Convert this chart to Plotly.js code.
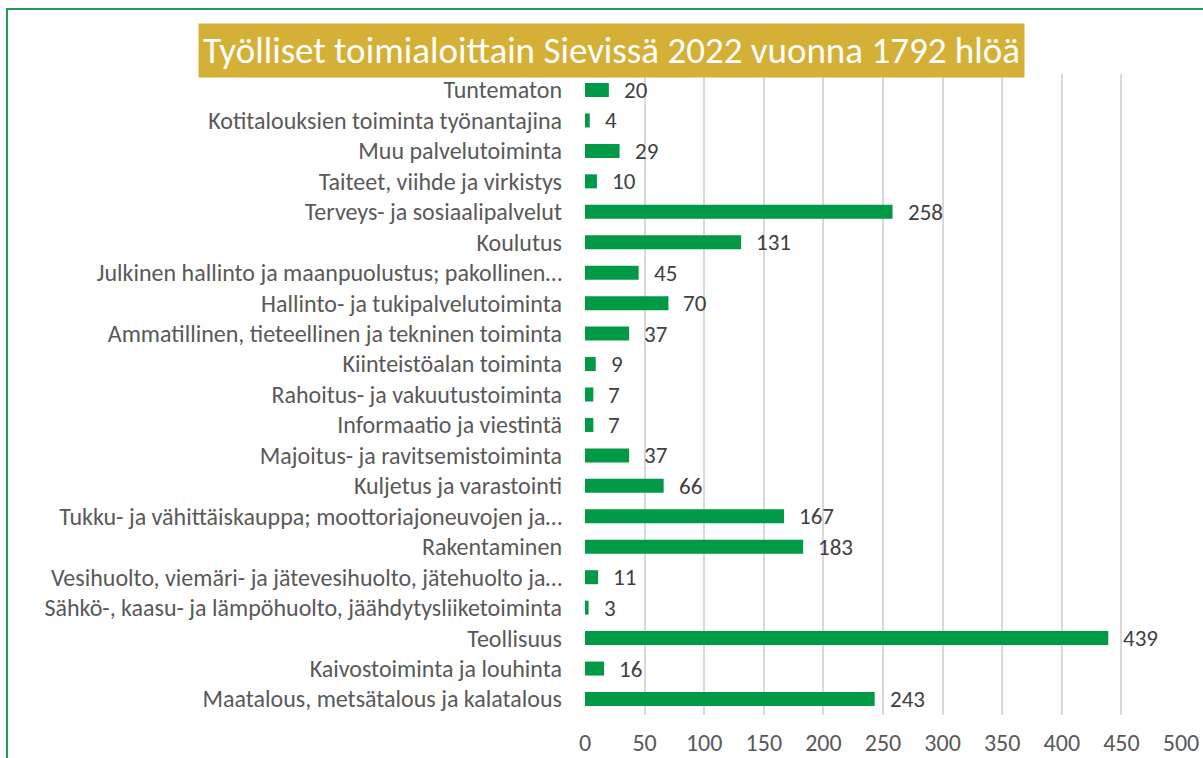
<!DOCTYPE html>
<html>
<head>
<meta charset="utf-8">
<script src="https://cdn.plot.ly/plotly-3.0.1.min.js"></script>
<style>
  body { margin: 0; background: #fff; }
  #frame { position: absolute; left: 6px; top: 8px; width: 1260px; height: 800px; border: 2px solid #1BA24F; }
  #chart { position: absolute; left: 0; top: 0; width: 1203px; height: 758px; }
</style>
</head>
<body>
<div id="frame"></div>
<div id="chart"></div>
<script>
// Toimialat alhaalta ylös (kuten Excelin vaakapylväskaaviossa)
const categories = [
    'Maatalous, metsätalous ja kalatalous',
    'Kaivostoiminta ja louhinta',
    'Teollisuus',
    'Sähkö-, kaasu- ja lämpöhuolto, jäähdytysliiketoiminta',
    'Vesihuolto, viemäri- ja jätevesihuolto, jätehuolto ja…',
    'Rakentaminen',
    'Tukku- ja vähittäiskauppa; moottoriajoneuvojen ja…',
    'Kuljetus ja varastointi',
    'Majoitus- ja ravitsemistoiminta',
    'Informaatio ja viestintä',
    'Rahoitus- ja vakuutustoiminta',
    'Kiinteistöalan toiminta',
    'Ammatillinen, tieteellinen ja tekninen toiminta',
    'Hallinto- ja tukipalvelutoiminta',
    'Julkinen hallinto ja maanpuolustus; pakollinen…',
    'Koulutus',
    'Terveys- ja sosiaalipalvelut',
    'Taiteet, viihde ja virkistys',
    'Muu palvelutoiminta',
    'Kotitalouksien toiminta työnantajina',
    'Tuntematon'
];

const employed = [243, 16, 439, 3, 11, 183, 167, 66, 37, 7, 7, 9, 37, 70, 45, 131, 258, 10, 29, 4, 20];

const xTicks = [0, 50, 100, 150, 200, 250, 300, 350, 400, 450, 500];

const titleText = 'Työlliset toimialoittain Sievissä 2022 vuonna 1792 hlöä';

const green = '#009A47';
const font = 'Calibri, Carlito, Lato, sans-serif';

const trace = {
    type: 'bar',
    orientation: 'h',
    x: employed,
    y: categories,
    marker: { color: green },
    hoverinfo: 'x+y'
};

// arvojen tekstit pylväiden perään
const valueLabels = employed.map((v, i) => ({
    x: v,
    y: categories[i],
    xref: 'x',
    yref: 'y',
    text: String(v),
    showarrow: false,
    xanchor: 'left',
    xshift: 13,
    font: { family: font, size: 23, color: '#404040' }
}));

const titleBox = {
    text: titleText,
    xref: 'paper',
    yref: 'paper',
    x: 0.045,
    y: 1.0,
    xanchor: 'center',
    yanchor: 'bottom',
    yshift: -4,
    showarrow: false,
    bgcolor: '#D5B036',
    borderpad: 4,
    font: { family: font, size: 37, color: '#ffffff' }
};

const layout = {
    width: 1203,
    height: 758,
    margin: { l: 585, r: 22, t: 74, b: 43 },
    paper_bgcolor: 'rgba(0,0,0,0)',
    plot_bgcolor: 'rgba(0,0,0,0)',
    bargap: 0.54,
    showlegend: false,
    xaxis: {
        range: [0, 500],
        tickvals: xTicks,
        showgrid: true,
        gridcolor: '#D9D9D9',
        gridwidth: 2,
        zeroline: false,
        showline: false,
        ticklabelstandoff: 11,
        tickfont: { family: font, size: 24, color: '#595959' },
        fixedrange: true
    },
    yaxis: {
        type: 'category',
        showgrid: false,
        zeroline: false,
        showline: false,
        ticklabelstandoff: 22,
        tickfont: { family: font, size: 24, color: '#595959' },
        fixedrange: true
    },
    annotations: [titleBox].concat(valueLabels)
};

Plotly.newPlot('chart', [trace], layout, { displayModeBar: false, staticPlot: true });
</script>
</body>
</html>
